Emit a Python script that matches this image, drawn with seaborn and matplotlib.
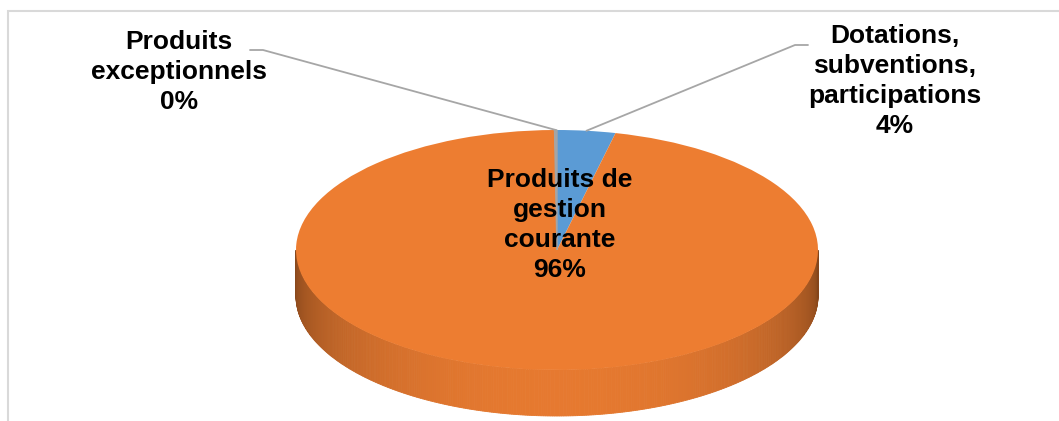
import numpy as np
import matplotlib.pyplot as plt
import matplotlib.colors as mcolors
from matplotlib.patches import Polygon, Rectangle
import seaborn as sns

# Data (order as in the workbook: drawn clockwise from 12 o'clock)
categories = ['Dotations,\nsubventions,\nparticipations',
              'Produits de\ngestion\ncourante',
              'Produits\nexceptionnels']
values = [3.6, 96.25, 0.15]
colors = ['#5B9BD5', '#ED7D31', '#A5A5A5']

W, H = 1059, 421
CX, CY = 557, 250   # pie centre (pixels)
RX, RY = 261, 120   # ellipse radii (pixels)
DEPTH = 46 / RY     # thickness of the 3D side, in pie units

sns.set_theme(style='white')
plt.rcParams['font.family'] = ['Liberation Sans', 'DejaVu Sans']

fig = plt.figure(figsize=(W / 100, H / 100), dpi=100)
ax = fig.add_axes([0, 0, 1, 1])

wedges, _ = ax.pie(values, colors=colors, startangle=90, counterclock=False,
                   wedgeprops=dict(linewidth=0))
# the near-zero slice shows up as a thin grey line
wedges[2].set_edgecolor(colors[2])
wedges[2].set_linewidth(1.0)
ax.set_aspect('auto')
ax.set_xlim(-CX / RX, (W - CX) / RX)
ax.set_ylim((CY - H) / RY, CY / RY)
ax.axis('off')


def px(x, y):
    # pixel position -> pie units
    return (x - CX) / RX, (CY - y) / RY


def wedge_at(phi):
    for w in wedges:
        a = (phi - w.theta1) % 360
        if a <= (w.theta2 - w.theta1):
            return w
    return wedges[-1]


# side of the pie (front half), shaded like Excel's 3D pie
step = 0.5
for phi in np.arange(180, 360, step):
    w = wedge_at(phi + step / 2)
    c = np.cos(np.radians(phi + step / 2 - 270))
    f = 0.55 + 0.42 * max(c, 0) ** 0.8
    base = np.array(mcolors.to_rgb(w.get_facecolor()))
    col = tuple(np.clip(base * f, 0, 1))
    a1, a2 = np.radians(phi), np.radians(phi + step)
    pts = [(np.cos(a1), np.sin(a1)), (np.cos(a2), np.sin(a2)),
           (np.cos(a2), np.sin(a2) - DEPTH), (np.cos(a1), np.sin(a1) - DEPTH)]
    ax.add_patch(Polygon(pts, closed=True, facecolor=col, edgecolor=col,
                         lw=0.6, zorder=0.5))


def rim(w):
    m = np.radians((w.theta1 + w.theta2) / 2)
    return np.cos(m), np.sin(m)


def pct(v):
    return f"{round(v)}%"


font = dict(fontsize=19, fontweight='bold', color='black',
            ha='center', va='center', linespacing=1.32)

# centre label
x, y = px(560, 225)
ax.text(x, y, categories[1] + '\n' + pct(values[1]), **font)

# Produits exceptionnels
x, y = px(179, 72)
ax.text(x, y, categories[2] + '\n' + pct(values[2]), **font)
r = rim(wedges[2])
p1, p2 = px(263, 50), px(250, 50)
ax.plot([r[0], p1[0], p2[0]], [r[1], p1[1], p2[1]], color='#A6A6A6', lw=1.3)

# Dotations
x, y = px(895, 81)
ax.text(x, y, categories[0] + '\n' + pct(values[0]), **font)
r = rim(wedges[0])
p1, p2 = px(795, 45), px(808, 45)
ax.plot([r[0], p1[0], p2[0]], [r[1], p1[1], p2[1]], color='#A6A6A6', lw=1.3)

# chart area border
ax.add_patch(Rectangle((8 / W, -0.05), 1.1, (H - 10.5) / H + 0.05,
                       transform=ax.transAxes, fill=False,
                       edgecolor='#D9D9D9', lw=1.5, clip_on=False))

fig.savefig('out.png', dpi=100, facecolor='white')
